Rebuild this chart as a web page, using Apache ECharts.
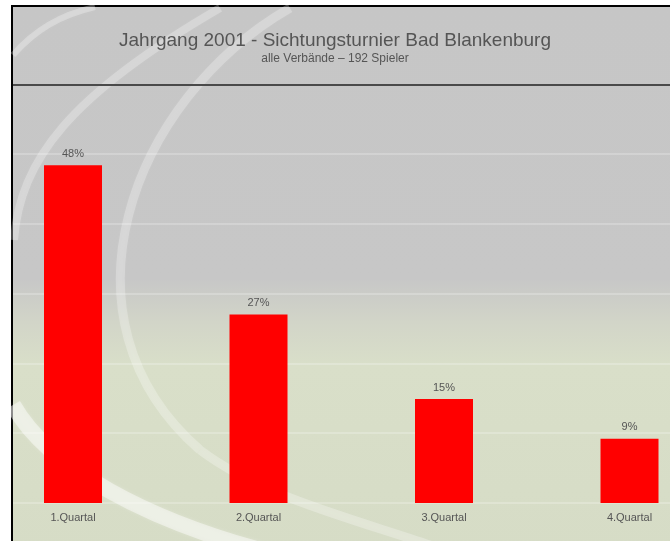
<!DOCTYPE html>
<html>
<head>
<meta charset="utf-8">
<script src="https://cdn.jsdelivr.net/npm/echarts@6/dist/echarts.min.js"></script>
<style>
html,body{margin:0;padding:0;background:#fff;}
#c{width:670px;height:541px;}
</style>
</head>
<body>
<div id="c"></div>
<script>
var categories = ['1.Quartal', '2.Quartal', '3.Quartal', '4.Quartal'];
var values = [48.4, 27.0, 14.9, 9.2];
var yMin = 0, yMax = 50, yStep = 10;
var titleText = 'Jahrgang 2001 - Sichtungsturnier Bad Blankenburg';
var subtitleText = 'alle Verbände – 192 Spieler';

var chart = echarts.init(document.getElementById('c'), null, {renderer: 'canvas'});
var FONT = 'Liberation Sans, Arial, sans-serif';
var arcStyle = function (op, w) { return {stroke: 'rgba(255,255,255,' + op + ')', lineWidth: w, fill: null, shadowBlur: 4, shadowColor: 'rgba(255,255,255,' + op + ')'}; };

chart.setOption({
  animation: false,
  backgroundColor: '#ffffff',
  graphic: [
    {type: 'rect', z: -100, shape: {x: 12, y: 6, width: 670, height: 545},
     style: {stroke: '#000', lineWidth: 2,
       fill: {type: 'linear', x: 0, y: 0, x2: 0, y2: 1, colorStops: [
         {offset: 0, color: '#c6c6c6'},
         {offset: 0.5, color: '#c7c7c7'},
         {offset: 0.58, color: '#d2d5c8'},
         {offset: 0.66, color: '#d9dfc9'},
         {offset: 1, color: '#d6dcc6'}]}}},
    {type: 'bezierCurve', z: -90, shape: {x1: 13, y1: 55, cpx1: 35, cpy1: 30, cpx2: 60, cpy2: 15, x2: 95, y2: 7}, style: arcStyle(0.28, 6)},
    {type: 'bezierCurve', z: -90, shape: {x1: 14, y1: 240, cpx1: 20, cpy1: 160, cpx2: 70, cpy2: 95, x2: 220, y2: 8}, style: arcStyle(0.25, 8)},
    {type: 'bezierCurve', z: -90, shape: {x1: 290, y1: 8, cpx1: 130, cpy1: 100, cpx2: 50, cpy2: 320, x2: 200, y2: 450}, style: arcStyle(0.25, 9)},
    {type: 'bezierCurve', z: -90, shape: {x1: 200, y1: 450, cpx1: 260, cpy1: 495, cpx2: 340, cpy2: 515, x2: 430, y2: 545}, style: arcStyle(0.25, 9)},
    {type: 'bezierCurve', z: -90, shape: {x1: 13, y1: 405, cpx1: 50, cpy1: 470, cpx2: 150, cpy2: 520, x2: 260, y2: 550}, style: arcStyle(0.45, 16)},
    {type: 'line', z: -80, shape: {x1: 13, y1: 85, x2: 670, y2: 85}, style: {stroke: '#4a4a4a', lineWidth: 2}},
    {type: 'text', z: 10, left: 'center', top: 31, style: {text: titleText, font: '19px ' + FONT, fill: '#555'}},
    {type: 'text', z: 10, left: 'center', top: 53, style: {text: subtitleText, font: '12px ' + FONT, fill: '#555'}}
  ],
  grid: [
    {left: 73, right: 40.5, top: 154, bottom: 38},
    {left: 13, right: 0, top: 154, bottom: 38}
  ],
  xAxis: [
    {type: 'category', gridIndex: 0, data: categories, boundaryGap: false,
     axisLine: {show: false}, axisTick: {show: false}, splitLine: {show: false},
     axisLabel: {color: '#555', fontSize: 11, fontFamily: FONT, margin: 9}},
    {type: 'value', gridIndex: 1, show: false, min: 0, max: 1}
  ],
  yAxis: [
    {type: 'value', gridIndex: 0, min: yMin, max: yMax, interval: yStep, show: false},
    {type: 'value', gridIndex: 1, min: yMin, max: yMax, interval: yStep,
     axisLine: {show: false}, axisTick: {show: false}, axisLabel: {show: false},
     splitLine: {show: true, lineStyle: {color: 'rgba(255,255,255,0.3)', width: 1.5}}}
  ],
  series: [{
    type: 'bar', xAxisIndex: 0, yAxisIndex: 0, data: values, barWidth: 58, clip: false,
    itemStyle: {color: '#ff0000'},
    label: {show: true, position: 'top', distance: 6, color: '#555', fontSize: 11, fontFamily: FONT,
      formatter: function (p) { return Math.round(p.value) + '%'; }}
  }]
});
</script>
</body>
</html>
